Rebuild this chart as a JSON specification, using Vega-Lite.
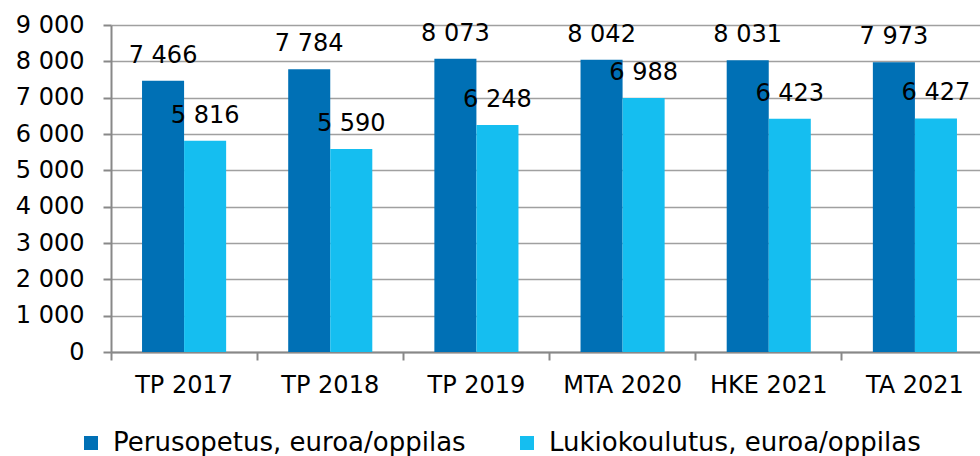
{
  "$schema": "https://vega.github.io/schema/vega-lite/v6.json",
  "autosize": {"type": "none"},
  "width": 869,
  "height": 327,
  "padding": {"left": 111, "top": 25, "right": 0, "bottom": 104},
  "background": "white",
  "config": {
    "view": {"stroke": null},
    "font": "DejaVu Sans",
    "locale": {"number": {"decimal": ",", "thousands": " ", "grouping": [3], "currency": ["", " €"]}}
  },
  "data": {
    "values": [
      {"kausi": "TP 2017", "sarja": "Perusopetus, euroa/oppilas", "arvo": 7466},
      {"kausi": "TP 2017", "sarja": "Lukiokoulutus, euroa/oppilas", "arvo": 5816},
      {"kausi": "TP 2018", "sarja": "Perusopetus, euroa/oppilas", "arvo": 7784},
      {"kausi": "TP 2018", "sarja": "Lukiokoulutus, euroa/oppilas", "arvo": 5590},
      {"kausi": "TP 2019", "sarja": "Perusopetus, euroa/oppilas", "arvo": 8073},
      {"kausi": "TP 2019", "sarja": "Lukiokoulutus, euroa/oppilas", "arvo": 6248},
      {"kausi": "MTA 2020", "sarja": "Perusopetus, euroa/oppilas", "arvo": 8042},
      {"kausi": "MTA 2020", "sarja": "Lukiokoulutus, euroa/oppilas", "arvo": 6988},
      {"kausi": "HKE 2021", "sarja": "Perusopetus, euroa/oppilas", "arvo": 8031},
      {"kausi": "HKE 2021", "sarja": "Lukiokoulutus, euroa/oppilas", "arvo": 6423},
      {"kausi": "TA 2021", "sarja": "Perusopetus, euroa/oppilas", "arvo": 7973},
      {"kausi": "TA 2021", "sarja": "Lukiokoulutus, euroa/oppilas", "arvo": 6427}
    ]
  },
  "encoding": {
    "x": {
      "field": "kausi",
      "type": "nominal",
      "sort": ["TP 2017", "TP 2018", "TP 2019", "MTA 2020", "HKE 2021", "TA 2021"],
      "scale": {"range": [0, 877], "paddingInner": 0, "paddingOuter": 0},
      "axis": {
        "title": null,
        "bandPosition": 0,
        "labelOffset": 0,
        "labelAngle": 0,
        "labelFontSize": 24,
        "labelColor": "#000000",
        "labelPadding": 13,
        "tickSize": 8,
        "tickColor": "#888888",
        "tickWidth": 2,
        "domainColor": "#888888",
        "domainWidth": 2,
        "grid": false
      }
    },
    "xOffset": {
      "field": "sarja",
      "type": "nominal",
      "sort": ["Perusopetus, euroa/oppilas", "Lukiokoulutus, euroa/oppilas"],
      "scale": {"paddingInner": 0, "paddingOuter": 0.738}
    },
    "y": {
      "field": "arvo",
      "type": "quantitative",
      "scale": {"domain": [0, 9000], "nice": false},
      "axis": {
        "title": null,
        "values": [0, 1000, 2000, 3000, 4000, 5000, 6000, 7000, 8000, 9000],
        "format": ",.0f",
        "labelFontSize": 24,
        "labelColor": "#000000",
        "labelPadding": 19,
        "tickSize": 8,
        "tickColor": "#888888",
        "tickWidth": 2,
        "domainColor": "#888888",
        "domainWidth": 2,
        "grid": true,
        "gridColor": "#a0a0a0",
        "gridWidth": 1.5
      }
    }
  },
  "layer": [
    {
      "mark": {"type": "bar"},
      "encoding": {
        "color": {
          "field": "sarja",
          "type": "nominal",
          "sort": ["Perusopetus, euroa/oppilas", "Lukiokoulutus, euroa/oppilas"],
          "scale": {"range": ["#0070B5", "#15BEF0"]},
          "legend": {
            "title": null,
            "orient": "none",
            "direction": "horizontal",
            "legendX": -33,
            "legendY": 405,
            "padding": 0,
            "symbolType": "square",
            "symbolSize": 196,
            "symbolStrokeWidth": 0,
            "symbolOpacity": 1,
            "labelFontSize": 26,
            "labelColor": "#000000",
            "labelOffset": 9,
            "columnPadding": 48,
            "labelLimit": 500
          }
        }
      }
    },
    {
      "mark": {"type": "text", "baseline": "alphabetic", "dy": -18, "fontSize": 24, "color": "#000000"},
      "encoding": {
        "text": {"field": "arvo", "type": "quantitative", "format": ",.0f"}
      }
    }
  ]
}
